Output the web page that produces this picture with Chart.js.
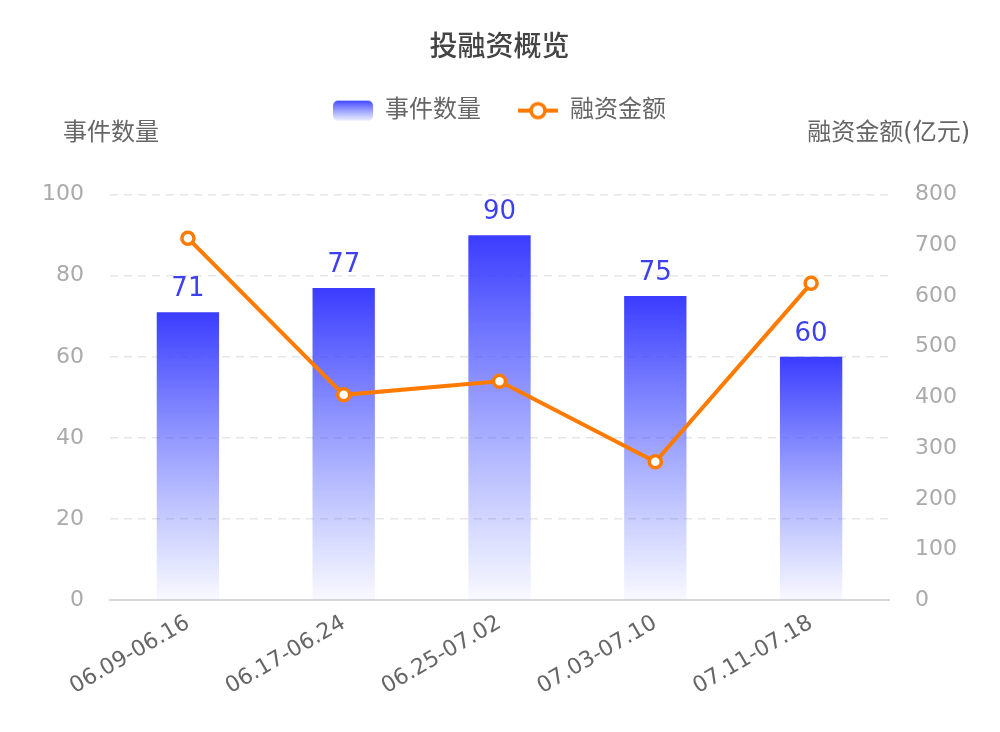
<!DOCTYPE html>
<html>
<head>
<meta charset="utf-8">
<script src="https://cdn.jsdelivr.net/npm/chart.js@4/dist/chart.umd.min.js"></script>
<style>
  html, body { margin: 0; padding: 0; background: #fff; }
  #wrap { width: 1000px; height: 732px; position: relative; }
</style>
</head>
<body>
<div id="wrap"><canvas id="chart"></canvas></div>
<script>
const weeks = ["06.09-06.16", "06.17-06.24", "06.25-07.02", "07.03-07.10", "07.11-07.18"];
const eventCounts = [71, 77, 90, 75, 60];
const fundingAmounts = [714, 405, 432, 273, 625];
const leftTicks = { min: 0, max: 100, step: 20 };
const rightTicks = { min: 0, max: 800, step: 100 };

const FONT = "'DejaVu Sans', 'Noto Sans CJK SC', sans-serif";
const BLUE_TOP = "rgba(58, 60, 255, 1)";
const BLUE_BOTTOM = "rgba(80, 100, 255, 0.04)";
const ORANGE = "#ff7b00";

// legend icons
function makeBarIcon() {
    let c = document.createElement("canvas");
    c.width = 40; c.height = 22;
    let g = c.getContext("2d");
    let grad = g.createLinearGradient(0, 0, 0, 22);
    grad.addColorStop(0, BLUE_TOP);
    grad.addColorStop(1, "rgba(80, 100, 255, 0.08)");
    g.fillStyle = grad;
    g.beginPath();
    g.roundRect(0, 1, 40, 20, 5);
    g.fill();
    return c;
}
function makeLineIcon() {
    let c = document.createElement("canvas");
    c.width = 40; c.height = 22;
    let g = c.getContext("2d");
    g.strokeStyle = ORANGE;
    g.lineWidth = 4;
    g.beginPath(); g.moveTo(0, 11); g.lineTo(40, 11); g.stroke();
    g.fillStyle = "#fff";
    g.lineWidth = 3.5;
    g.beginPath(); g.arc(20, 11, 7, 0, Math.PI * 2); g.fill(); g.stroke();
    return c;
}
const barIcon = makeBarIcon();
const lineIcon = makeLineIcon();

const legendGap = {
    id: "legendGap",
    beforeInit(chart) {
        const fit = chart.legend.fit;
        chart.legend.fit = function () {
            fit.bind(chart.legend)();
            this.height += 62;
        };
    }
};

const extraText = {
    id: "extraText",
    afterDatasetsDraw(chart) {
        const ctx = chart.ctx;
        const area = chart.chartArea;
        ctx.save();
        // axis titles
        ctx.font = "24px " + FONT;
        ctx.fillStyle = "#666";
        ctx.textBaseline = "middle";
        ctx.textAlign = "left";
        ctx.fillText("事件数量", 63, area.top - 61);
        ctx.textAlign = "right";
        ctx.fillText("融资金额(亿元)", 970, area.top - 61);
        // bar value labels
        const meta = chart.getDatasetMeta(1);
        ctx.font = "26px " + FONT;
        ctx.fillStyle = "#3d3ff0";
        ctx.textAlign = "center";
        ctx.textBaseline = "bottom";
        meta.data.forEach((bar, i) => {
            ctx.fillText(String(eventCounts[i]), bar.x, bar.y - 10);
        });
        ctx.restore();
    }
};

let ctx = document.getElementById("chart").getContext("2d");

window.fundChart = new Chart(ctx, {
    type: "bar",
    data: {
        labels: weeks,
        datasets: [
            {
                type: "line",
                label: "融资金额",
                data: fundingAmounts,
                yAxisID: "y1",
                borderColor: ORANGE,
                borderWidth: 4,
                pointRadius: 6,
                pointHoverRadius: 6,
                pointBorderWidth: 3.5,
                pointBackgroundColor: "#fff",
                pointBorderColor: ORANGE,
                tension: 0,
                order: 0
            },
            {
                type: "bar",
                label: "事件数量",
                data: eventCounts,
                yAxisID: "y",
                backgroundColor: function (context) {
                    const chart = context.chart;
                    const area = chart.chartArea;
                    if (!area || context.dataIndex === undefined) return BLUE_TOP;
                    const top = chart.scales.y.getPixelForValue(eventCounts[context.dataIndex]);
                    let grad = chart.ctx.createLinearGradient(0, top, 0, area.bottom);
                    grad.addColorStop(0, BLUE_TOP);
                    grad.addColorStop(1, BLUE_BOTTOM);
                    return grad;
                },
                barPercentage: 0.4,
                categoryPercentage: 1,
                order: 1
            }
        ]
    },
    options: {
        responsive: true,
        maintainAspectRatio: false,
        animation: false,
        layout: { padding: { left: 16, right: 17, bottom: 22, top: 0 } },
        plugins: {
            title: {
                display: true,
                text: "投融资概览",
                color: "#444",
                font: { family: FONT, size: 28, weight: "500" },
                padding: { top: 32, bottom: -4 }
            },
            legend: {
                position: "top",
                reverse: true,
                labels: {
                    usePointStyle: true,
                    pointStyleWidth: 40,
                    color: "#666",
                    font: { family: FONT, size: 24 },
                    padding: 37,
                    generateLabels: function (chart) {
                        let items = Chart.defaults.plugins.legend.labels.generateLabels(chart);
                        items.forEach(item => {
                            item.pointStyle = item.datasetIndex === 1 ? barIcon : lineIcon;
                        });
                        return items;
                    }
                }
            },
            tooltip: { enabled: false }
        },
        scales: {
            x: {
                grid: { display: false, drawTicks: false },
                border: { display: true, color: "#d6d6d6", width: 2 },
                ticks: {
                    color: "#666",
                    font: { family: FONT, size: 22 },
                    minRotation: 30,
                    maxRotation: 30,
                    padding: 10
                },
                afterFit: function (scale) {
                    scale.paddingLeft = 0;
                    scale.paddingRight = 0;
                }
            },
            y: {
                position: "left",
                min: leftTicks.min,
                max: leftTicks.max,
                ticks: {
                    stepSize: leftTicks.step,
                    color: "#aaa",
                    font: { family: FONT, size: 22 },
                    padding: 26
                },
                grid: {
                    drawTicks: false,
                    lineWidth: 1.5,
                    color: c => c.tick && c.tick.value === 0 ? "rgba(0,0,0,0)" : "#e6e6e6"
                },
                border: { display: false, dash: [8, 6] }
            },
            y1: {
                position: "right",
                min: rightTicks.min,
                max: rightTicks.max,
                ticks: {
                    stepSize: rightTicks.step,
                    color: "#aaa",
                    font: { family: FONT, size: 22 },
                    padding: 26
                },
                grid: { display: false, drawTicks: false },
                border: { display: false }
            }
        }
    },
    plugins: [legendGap, extraText]
});
</script>
</body>
</html>
